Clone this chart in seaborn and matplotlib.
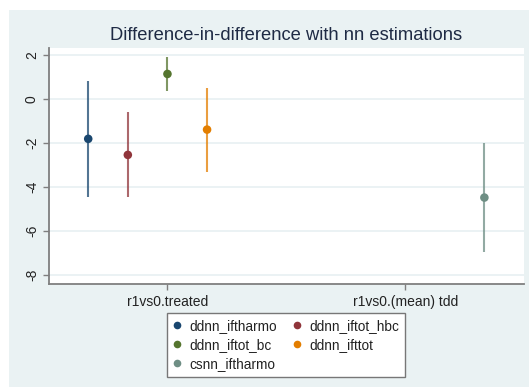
import matplotlib
matplotlib.use("Agg")
import matplotlib.pyplot as plt
from matplotlib.patches import Rectangle
from matplotlib.lines import Line2D
import seaborn as sns
import pandas as pd
import numpy as np

# ---- data ----
series = ["ddnn_iftharmo", "ddnn_iftot_hbc", "ddnn_iftot_bc", "ddnn_ifttot", "csnn_iftharmo"]
categories = ["r1vs0.treated", "r1vs0.(mean) tdd"]
series_category = ["r1vs0.treated", "r1vs0.treated", "r1vs0.treated", "r1vs0.treated", "r1vs0.(mean) tdd"]
estimates = [-1.80, -2.53, 1.15, -1.38, -4.47]
ci_low = [-4.45, -4.45, 0.39, -3.29, -6.95]
ci_high = [0.85, -0.59, 1.91, 0.50, -1.97]
yticks = [2, 0, -2, -4, -6, -8]
title = "Difference-in-difference with nn estimations"

palette = ["#1a476f", "#90353b", "#55752f", "#e37e00", "#6e8e84"]

sns.set_theme(style="white")
plt.rcParams["font.family"] = ["Liberation Sans", "DejaVu Sans"]

df = pd.DataFrame({
    "series": series,
    "category": series_category,
    "est": estimates,
    "lo": ci_low,
    "hi": ci_high,
})
n = len(series)
dodge = 1.0 / 6
df["xpos"] = [categories.index(c) + 1 + (i - (n - 1) / 2) * dodge
              for i, c in enumerate(df["category"])]

fig = plt.figure(figsize=(5.29, 3.87), dpi=100, facecolor="white")
bg = "#EAF2F3"
fig.patches.append(Rectangle((9 / 529, 0), 1 - 9 / 529, 1 - 10 / 387,
                             transform=fig.transFigure, facecolor=bg,
                             edgecolor="none", zorder=-10))

ax = fig.add_axes([48.6 / 529, 1 - 284 / 387, (524 - 48.6) / 529, (284 - 48) / 387])
ax.set_facecolor("white")

# grid
for yt in yticks:
    ax.axhline(yt, color="#E8F0F2", lw=1.2, zorder=0)

# confidence intervals
for i, row in df.iterrows():
    ax.vlines(row["xpos"], row["lo"], row["hi"], color=palette[i], lw=1.5,
              alpha=0.75, zorder=2)

sns.scatterplot(data=df, x="xpos", y="est", hue="series", hue_order=series,
                palette=palette, s=38, edgecolor="none", ax=ax, zorder=3,
                legend=False)

ax.set_xlim(0.5, 2.5)
ax.set_ylim(-8.40, 2.33)
ax.set_xticks([1, 2])
ax.set_xticklabels(categories)
ax.set_yticks(yticks)
ax.set_yticklabels([str(v) for v in yticks], rotation=90, va="center")
ax.set_xlabel("")
ax.set_ylabel("")

for side in ["top", "right"]:
    ax.spines[side].set_visible(False)
for side in ["left", "bottom"]:
    ax.spines[side].set_color("#7f7f7f")
    ax.spines[side].set_linewidth(1.3)

ax.tick_params(axis="both", which="major", direction="out", length=4,
               width=1, color="#7f7f7f", labelsize=10, labelcolor="#222222",
               left=True, bottom=True)
ax.tick_params(axis="y", pad=3)
ax.tick_params(axis="x", pad=4)

fig.text(286 / 529, 1 - 35 / 387, title, ha="center", va="center",
         fontsize=13.2, color="#1e2a44")

# legend
handles = [Line2D([0], [0], marker="o", linestyle="none", markersize=5.5,
                  markerfacecolor=palette[i], markeredgecolor="none")
           for i in range(n)]
order = [0, 2, 4, 1, 3]
leg = fig.legend([handles[i] for i in order], [series[i] for i in order],
                 ncol=2, loc="center", bbox_to_anchor=(286 / 529, 1 - 345 / 387),
                 frameon=True, fancybox=False, fontsize=9.8, handlelength=0.6,
                 handletextpad=0.6, columnspacing=1.2, labelspacing=0.38,
                 borderpad=0.4, framealpha=1)
leg.get_frame().set_edgecolor("#777777")
leg.get_frame().set_linewidth(1.0)
leg.get_frame().set_facecolor("white")
for t in leg.get_texts():
    t.set_color("#222222")

fig.savefig("out.png", dpi=100, facecolor="white")
